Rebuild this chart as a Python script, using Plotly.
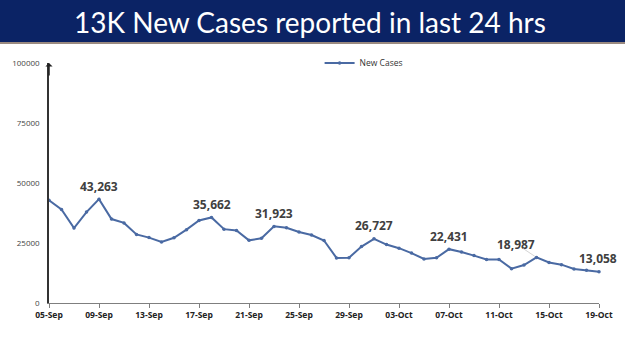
import plotly.graph_objects as go

dates = ["05-Sep","06-Sep","07-Sep","08-Sep","09-Sep","10-Sep","11-Sep","12-Sep","13-Sep","14-Sep",
         "15-Sep","16-Sep","17-Sep","18-Sep","19-Sep","20-Sep","21-Sep","22-Sep","23-Sep","24-Sep",
         "25-Sep","26-Sep","27-Sep","28-Sep","29-Sep","30-Sep","01-Oct","02-Oct","03-Oct","04-Oct",
         "05-Oct","06-Oct","07-Oct","08-Oct","09-Oct","10-Oct","11-Oct","12-Oct","13-Oct","14-Oct",
         "15-Oct","16-Oct","17-Oct","18-Oct","19-Oct"]
new_cases = [42766, 38948, 31222, 37875, 43263, 34973, 33376, 28591, 27254, 25404,
             27176, 30570, 34403, 35662, 30773, 30256, 26115, 26964, 31923, 31382,
             29616, 28326, 26041, 18795, 18870, 23529, 26727, 24354, 22842, 20799,
             18346, 18833, 22431, 21257, 19740, 18166, 18132, 14313, 15823, 18987,
             16862, 15981, 14146, 13596, 13058]
label_dates = ["09-Sep", "18-Sep", "23-Sep", "01-Oct", "07-Oct", "14-Oct", "19-Oct"]
tick_labels = dates[::4]
y_ticks = [0, 25000, 50000, 75000, 100000]
y_tick_labels = ["0", "25000", "50000", "75000", "100000"]
title_text = "13K New Cases reported in last 24 hrs"

W, H = 625, 351
ml, mr, mt, mb = 46, 18, 63, 48
pw = W - ml - mr
ph = H - mt - mb

fig = go.Figure()
fig.add_trace(go.Scatter(
    x=list(range(len(dates))), y=new_cases, mode="lines+markers", name="New Cases",
    line=dict(color="#4a6aa3", width=2),
    marker=dict(size=3.5, color="#4a6aa3"),
    cliponaxis=False,
))

# value labels
for d in label_dates:
    i = dates.index(d)
    xs = 0
    if d == "14-Oct":
        xs = -21
    elif d == "19-Oct":
        xs = -1
    fig.add_annotation(x=i, y=new_cases[i], text=f"{new_cases[i]:,}", showarrow=False,
                       yshift=13, xshift=xs,
                       font=dict(family="Open Sans", size=12, color="#404040", weight="bold"))
# faint leader line for 18,987
i = dates.index("14-Oct")
fig.add_annotation(x=i, y=new_cases[i], ax=-15, ay=-10, axref="pixel", ayref="pixel",
                   text="", showarrow=True, arrowhead=0, arrowwidth=0.8, arrowcolor="#c8c8c8",
                   standoff=2)

fig.update_xaxes(
    range=[0, len(dates) - 1],
    tickvals=list(range(0, len(dates), 4)), ticktext=tick_labels,
    showline=True, linecolor="#7f7f7f", linewidth=1,
    ticks="outside", ticklen=4, tickcolor="#7f7f7f",
    showgrid=False, zeroline=False,
    tickfont=dict(family="Open Sans", size=8.5, color="#222222", weight="bold"),
)
fig.update_yaxes(
    range=[0, 100000], tickvals=y_ticks, ticktext=y_tick_labels,
    showline=True, linecolor="#333333", linewidth=1.5,
    ticks="", showgrid=False, zeroline=False, ticklabelstandoff=6,
    tickfont=dict(family="Open Sans", size=8, color="#444444"),
)

# y-axis arrow head
fig.add_annotation(x=0, y=100000, xref="x", yref="y", ax=0, ay=14, axref="pixel", ayref="pixel",
                   text="", showarrow=True, arrowhead=1, arrowsize=0.8, arrowwidth=1.5,
                   arrowcolor="#222222", standoff=0)

# title banner
x0p = -ml / pw
x1p = 1 + mr / pw
def ypix(py):
    return 1 + (mt - py) / ph
fig.add_shape(type="rect", xref="paper", yref="paper", x0=x0p - 0.05, x1=x1p + 0.05, y0=ypix(42), y1=ypix(-2),
              fillcolor="#0b2365", line=dict(width=0), layer="below")
fig.add_shape(type="rect", xref="paper", yref="paper", x0=x0p - 0.05, x1=x1p + 0.05, y0=ypix(44), y1=ypix(42),
              fillcolor="#9a8a80", line=dict(width=0), layer="below")
fig.add_annotation(xref="paper", yref="paper", x=(x0p + x1p) / 2, y=ypix(22), text=title_text,
                   showarrow=False, xanchor="center", yanchor="middle",
                   font=dict(family="Lato", size=28, color="white"))

fig.update_layout(
    width=W, height=H,
    margin=dict(l=ml, r=mr, t=mt, b=mb),
    paper_bgcolor="white", plot_bgcolor="white",
    showlegend=True,
    legend=dict(x=0.572, y=1.0, xanchor="center", yanchor="middle", orientation="h",
                font=dict(family="Open Sans", size=8.5, color="#333333"),
                bgcolor="rgba(0,0,0,0)", itemwidth=30),
)

fig.write_html("out.html", config={"displayModeBar": False},
               post_script="document.body.style.margin='0';document.documentElement.style.overflow='hidden';document.body.style.overflow='hidden';")
